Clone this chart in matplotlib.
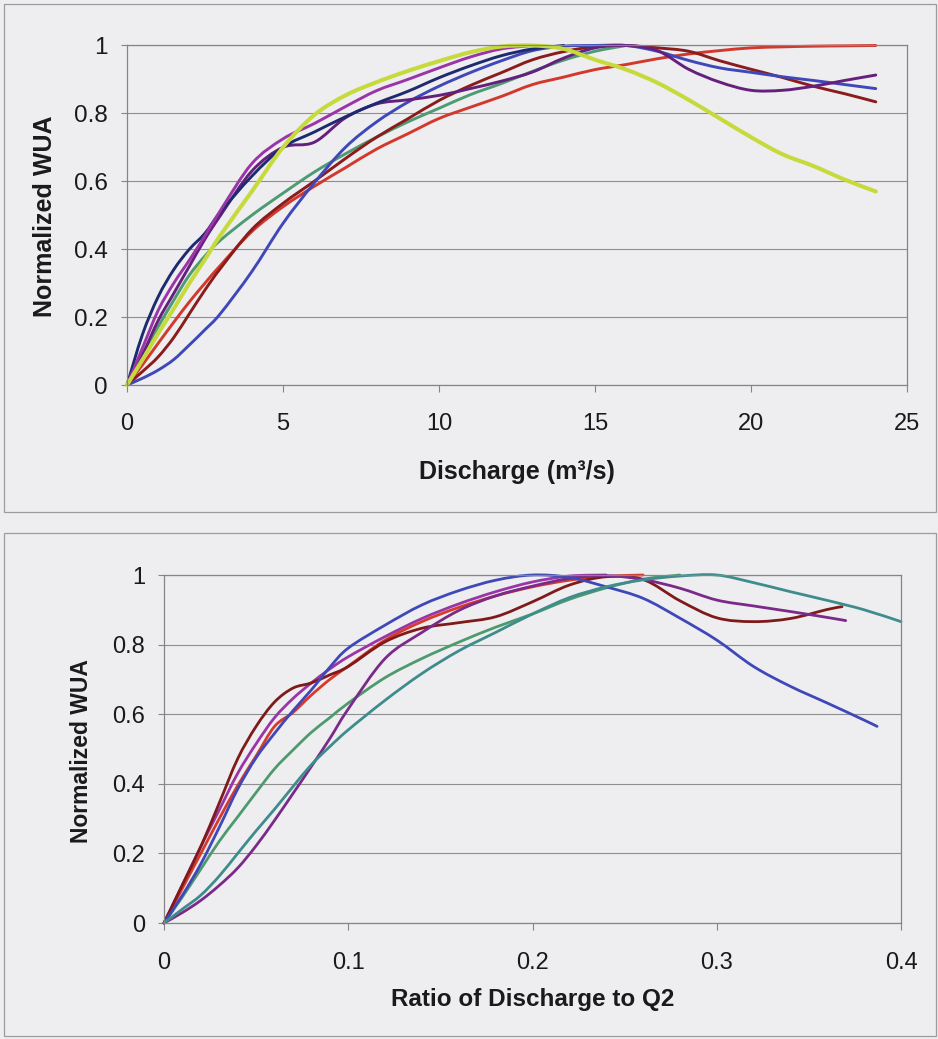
import matplotlib
matplotlib.use("Agg")
import matplotlib.pyplot as plt
from matplotlib.path import Path
from matplotlib.patches import PathPatch, Rectangle
from matplotlib.ticker import FixedLocator, FixedFormatter
import numpy as np

# ---------------- data: WUA vs discharge ----------------
discharge = [0, 0.5, 1, 1.5, 2, 2.5, 3, 4, 5, 6, 7, 8, 9, 10, 11, 12, 13, 14,
             15, 16, 17, 18, 19, 20, 21, 22, 23, 24]

wua_red = [0, 0.06, 0.123, 0.185, 0.245, 0.30, 0.353, 0.452, 0.525, 0.585, 0.64,
           0.695, 0.74, 0.785, 0.818, 0.85, 0.885, 0.907, 0.929, 0.944, 0.961,
           0.975, 0.985, 0.993, 0.996, 0.998, 0.999, 1.0]
wua_green = [0, 0.09, 0.172, 0.25, 0.324, 0.38, 0.427, 0.50, 0.565, 0.627, 0.681,
             0.73, 0.775, 0.815, 0.855, 0.888, 0.924, 0.957, 0.983, 1.0]
wua_maroon = [0, 0.04, 0.083, 0.14, 0.21, 0.28, 0.344, 0.458, 0.535, 0.60, 0.667,
              0.73, 0.784, 0.838, 0.882, 0.92, 0.958, 0.982, 0.997, 1.0, 0.993,
              0.983, 0.955, 0.93, 0.906, 0.88, 0.858, 0.834]
wua_blue = [0, 0.02, 0.044, 0.075, 0.118, 0.163, 0.211, 0.334, 0.476, 0.595, 0.70,
            0.775, 0.833, 0.88, 0.92, 0.955, 0.985, 0.998, 1.0, 1.0, 0.983, 0.956,
            0.934, 0.921, 0.908, 0.897, 0.885, 0.873]
wua_darkpurple = [0, 0.09, 0.19, 0.27, 0.35, 0.43, 0.50, 0.63, 0.70, 0.715, 0.787,
                  0.828, 0.84, 0.853, 0.873, 0.895, 0.922, 0.963, 0.993, 1.0, 0.985,
                  0.93, 0.892, 0.868, 0.868, 0.88, 0.897, 0.913]
wua_navy = [0, 0.15, 0.26, 0.34, 0.40, 0.447, 0.51, 0.615, 0.70, 0.745, 0.79, 0.83,
            0.865, 0.905, 0.94, 0.97, 0.99, 1.0]
wua_magenta = [0, 0.11, 0.22, 0.30, 0.368, 0.44, 0.515, 0.652, 0.725, 0.77, 0.82,
               0.867, 0.90, 0.934, 0.966, 0.99, 1.0]
wua_yellow = [0, 0.075, 0.152, 0.225, 0.30, 0.37, 0.442, 0.57, 0.70, 0.795, 0.853,
              0.892, 0.925, 0.954, 0.98, 0.997, 1.0, 0.99, 0.958, 0.929, 0.89, 0.84,
              0.785, 0.73, 0.68, 0.645, 0.605, 0.57]

# ---------------- data: WUA vs ratio of discharge to Q2 ----------------
ratio = [0, 0.01, 0.02, 0.03, 0.04, 0.05, 0.06, 0.07, 0.08, 0.09, 0.1, 0.12, 0.14,
         0.16, 0.18, 0.2, 0.22, 0.24, 0.26, 0.28, 0.3, 0.32, 0.34, 0.36, 0.38, 0.4]

rq_green = [0, 0.075, 0.155, 0.235, 0.305, 0.375, 0.443, 0.497, 0.548, 0.59, 0.632,
            0.705, 0.76, 0.807, 0.85, 0.888, 0.93, 0.963, 0.988, 1.0]
rq_magenta = [0, 0.11, 0.22, 0.325, 0.43, 0.515, 0.59, 0.645, 0.69, 0.73, 0.765,
              0.823, 0.875, 0.917, 0.952, 0.98, 0.997, 1.0]
rq_red = [0, 0.10, 0.20, 0.30, 0.395, 0.48, 0.565, 0.605, 0.655, 0.70, 0.738,
          0.813, 0.866, 0.907, 0.94, 0.966, 0.985, 0.996, 1.0]
rq_maroon = [0, 0.11, 0.22, 0.345, 0.472, 0.565, 0.635, 0.675, 0.69, 0.713, 0.737,
             0.808, 0.847, 0.863, 0.88, 0.923, 0.971, 0.995, 0.987, 0.926, 0.877,
             0.866, 0.875, 0.901, 0.909]
rq_maroon_x = ratio[:24] + [0.368]
rq_purple = [0, 0.03, 0.065, 0.108, 0.158, 0.222, 0.295, 0.372, 0.45, 0.53, 0.615,
             0.76, 0.835, 0.898, 0.94, 0.968, 0.99, 0.998, 0.987, 0.962, 0.928,
             0.911, 0.895, 0.878, 0.869]
rq_purple_x = ratio[:24] + [0.37]
rq_blue = [0, 0.08, 0.17, 0.275, 0.385, 0.475, 0.545, 0.61, 0.67, 0.735, 0.79,
           0.856, 0.914, 0.955, 0.985, 1.0, 0.993, 0.966, 0.933, 0.876, 0.813,
           0.737, 0.68, 0.632, 0.583, 0.565]
rq_blue_x = ratio[:25] + [0.387]
rq_teal = [0, 0.04, 0.08, 0.135, 0.20, 0.265, 0.327, 0.392, 0.455, 0.507, 0.555,
           0.64, 0.717, 0.782, 0.835, 0.888, 0.935, 0.966, 0.986, 0.997, 1.0,
           0.978, 0.952, 0.927, 0.90, 0.866]

wua_ticks = [0, 0.2, 0.4, 0.6, 0.8, 1.0]
wua_labels = ["0", "0.2", "0.4", "0.6", "0.8", "1"]
q_ticks = [0, 5, 10, 15, 20, 25]
q_labels = ["0", "5", "10", "15", "20", "25"]
r_ticks = [0, 0.1, 0.2, 0.3, 0.4]
r_labels = ["0", "0.1", "0.2", "0.3", "0.4"]

# ---------------- styling ----------------
BG = "#EEEDF0"
AXIS_GREY = "#858585"
GRID_GREY = "#8E8E8E"
TEXT = "#1A1A1A"
FONT = "Liberation Sans"

plt.rcParams["font.family"] = [FONT, "DejaVu Sans"]

W, H = 938, 1039
fig = plt.figure(figsize=(W / 100, H / 100), dpi=100, facecolor=BG)


def fx(px):
    return px / W


def fy(py):
    return 1 - py / H


def smooth_path(xs, ys):
    """Smoothed line through the points (Catmull-Rom as cubic Bezier)."""
    pts = np.column_stack([xs, ys]).astype(float)
    n = len(pts)
    verts = [pts[0]]
    codes = [Path.MOVETO]
    for i in range(n - 1):
        p0 = pts[max(i - 1, 0)]
        p1 = pts[i]
        p2 = pts[i + 1]
        p3 = pts[min(i + 2, n - 1)]
        c1 = p1 + (p2 - p0) / 6.0
        c2 = p2 - (p3 - p1) / 6.0
        verts += [c1, c2, p2]
        codes += [Path.CURVE4] * 3
    return Path(verts, codes)


def draw_series(ax, xs, ys, color, lw):
    patch = PathPatch(smooth_path(xs, ys), facecolor="none", edgecolor=color,
                      lw=lw, capstyle="round", joinstyle="round", clip_on=False)
    ax.add_patch(patch)


def style_axes(ax, xlim, xticks, xlabels, xsize, ysize, xpad, ypad):
    ax.set_facecolor(BG)
    ax.set_xlim(*xlim)
    ax.set_ylim(0, 1)
    for s in ax.spines.values():
        s.set_color(AXIS_GREY)
        s.set_linewidth(0.9)
    ax.xaxis.set_major_locator(FixedLocator(xticks))
    ax.xaxis.set_major_formatter(FixedFormatter(xlabels))
    ax.yaxis.set_major_locator(FixedLocator(wua_ticks))
    ax.yaxis.set_major_formatter(FixedFormatter(wua_labels))
    ax.tick_params(axis="x", direction="out", length=5.2, width=0.8,
                   color=AXIS_GREY, labelsize=xsize, labelcolor=TEXT, pad=xpad)
    ax.tick_params(axis="y", direction="out", length=4.6, width=0.8,
                   color=AXIS_GREY, labelsize=ysize, labelcolor=TEXT, pad=ypad)
    ax.grid(axis="y", color=GRID_GREY, lw=0.8)
    ax.set_axisbelow(True)


# panel frames
for top, bottom in [(4, 512), (533, 1036)]:
    fig.add_artist(Rectangle((fx(4), fy(bottom)), fx(932), (bottom - top) / H,
                             transform=fig.transFigure, facecolor="none",
                             edgecolor="#9C9C9C", lw=0.9))

# ---------------- upper chart ----------------
ax1 = fig.add_axes([fx(127), fy(385), fx(907 - 127), (385 - 45.5) / H])
style_axes(ax1, (0, 25), q_ticks, q_labels, 17, 17.5, 15.0, 9.0)

top_series = [
    (wua_red, "#D2382C", 2.1),
    (wua_green, "#4E9A72", 2.1),
    (wua_maroon, "#8A1C1C", 2.1),
    (wua_blue, "#3F48B8", 2.1),
    (wua_darkpurple, "#64207C", 2.1),
    (wua_navy, "#1E2A6E", 2.1),
    (wua_magenta, "#9A35A8", 2.1),
    (wua_yellow, "#C6DA3C", 2.9),
]
for vals, col, lw in top_series:
    draw_series(ax1, discharge[:len(vals)], vals, col, lw)

fig.text(fx(45), fy(216), "Normalized WUA", rotation=90, ha="center",
         va="center", fontsize=18, fontweight="bold", color=TEXT)
fig.text(fx(517), fy(479), "Discharge (m³/s)", ha="center", va="baseline",
         fontsize=18, fontweight="bold", color=TEXT)

# ---------------- lower chart ----------------
ax2 = fig.add_axes([fx(164), fy(923), fx(901 - 164), (923 - 575) / H])
style_axes(ax2, (0, 0.4), r_ticks, r_labels, 17, 17, 16.0, 9.0)

bottom_series = [
    (ratio[:len(rq_green)], rq_green, "#4E9A6E", 2.0),
    (ratio[:len(rq_magenta)], rq_magenta, "#9A35A8", 2.0),
    (ratio[:len(rq_red)], rq_red, "#D83A2A", 2.0),
    (rq_maroon_x, rq_maroon, "#7E1A1A", 2.0),
    (rq_purple_x, rq_purple, "#7A2A88", 2.0),
    (rq_blue_x, rq_blue, "#3F48B8", 2.0),
    (ratio[:len(rq_teal)], rq_teal, "#3E8C8C", 2.0),
]
for xs, vals, col, lw in bottom_series:
    draw_series(ax2, xs, vals, col, lw)

fig.text(fx(81.5), fy(751), "Normalized WUA", rotation=90, ha="center",
         va="center", fontsize=16.5, fontweight="bold", color=TEXT)
fig.text(fx(533), fy(1006), "Ratio of Discharge to Q2", ha="center",
         va="baseline", fontsize=17.5, fontweight="bold", color=TEXT)

fig.savefig("out.png", dpi=100, facecolor=BG)
